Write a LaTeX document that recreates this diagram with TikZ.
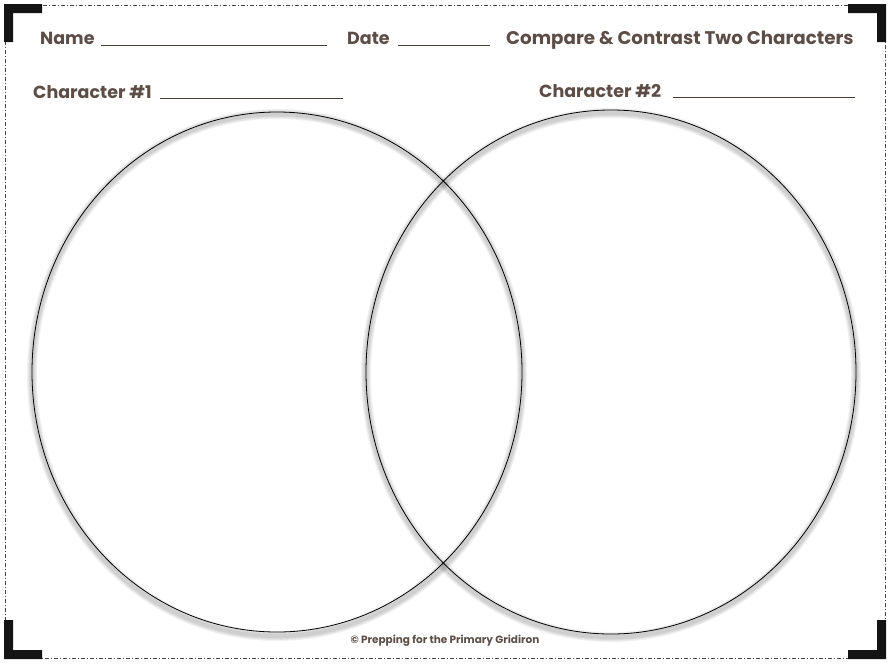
\documentclass[tikz,border=0pt]{standalone}
\usepackage{fontspec}
\setmainfont{Poppins}
\usetikzlibrary{shapes.geometric}

\definecolor{inkbrown}{RGB}{92,78,70}
\definecolor{framegray}{RGB}{70,70,70}

\begin{document}
\begin{tikzpicture}[x=1pt,y=-1pt,
    label/.style={font=\bfseries\fontsize{17.5}{20}\selectfont,text=inkbrown,inner sep=0pt,anchor=base west},
    blank/.style={line width=1pt,draw=inkbrown!80!black},
    venn/.style={ellipse,draw=black,line width=0.8pt,minimum width=490pt,minimum height=520pt,inner sep=0pt},
    shade/.style={draw=black,line width=#1,opacity=0.05},
    corner/.style={fill=black!92}]
        \useasboundingbox (0,0) rectangle (890,664);
        %\fill[white] (0,0) rectangle (890,664);

        % frame
        \draw[framegray,line width=0.7pt,dash pattern=on 4pt off 2pt on 1pt off 2pt]
            (5,5) rectangle (885,658);
        \fill[corner] (4,4) -- (42,4) -- (42,13) -- (13,13) -- (13,42) -- (4,42) -- cycle;
        \fill[corner] (886,4) -- (848,4) -- (848,13) -- (877,13) -- (877,42) -- (886,42) -- cycle;
        \fill[corner] (4,659) -- (42,659) -- (42,650) -- (13,650) -- (13,620) -- (4,620) -- cycle;
        \fill[corner] (886,659) -- (848,659) -- (848,650) -- (877,650) -- (877,620) -- (886,620) -- cycle;

        % header
        \node[label] (name)  at (40,44)  {Name};
        \coordinate (nameA) at (101,45);
        \coordinate (nameB) at (327,45);
        \node[label] (date)  at (347,44) {Date};
        \coordinate (dateA) at (398,45);
        \coordinate (dateB) at (490,45);
        \node[label,font=\bfseries\fontsize{18.3}{20}\selectfont] (title) at (506,44) {Compare \& Contrast Two Characters};
        \node[label] (char1) at (33,98)  {Character \#1};
        \coordinate (oneA) at (160,98);
        \coordinate (oneB) at (343,98);
        \node[label] (char2) at (539,97) {Character \#2};
        \coordinate (twoA) at (673,97);
        \coordinate (twoB) at (855,97);
        \draw[blank] (nameA) -- (nameB);
        \draw[blank] (dateA) -- (dateB);
        \draw[blank] (oneA) -- (oneB);
        \draw[blank] (twoA) -- (twoB);

        % soft shadows under the rings
        \foreach \w in {10,8,6,4}{
            \draw[shade=\w pt] (277,375) ellipse [x radius=245,y radius=261];
            \draw[shade=\w pt] (611,375) ellipse [x radius=245,y radius=262];
        }

        % rings
        \node[venn] (left)  at (277,372) {};
        \node[venn,minimum height=524pt] (right) at (611,372) {};

        % footer
        \node[font=\bfseries\fontsize{10.5}{12}\selectfont,text=inkbrown,inner sep=0pt] (credit)
            at (445,641) {© Prepping for the Primary Gridiron};
    \end{tikzpicture}
\end{document}
